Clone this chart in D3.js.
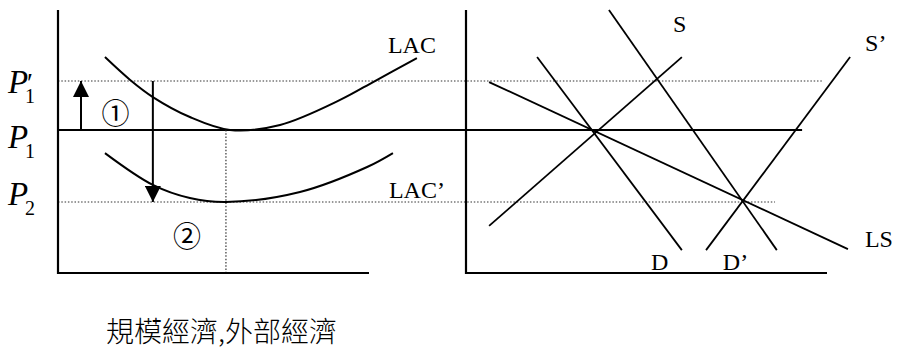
<!DOCTYPE html>
<html>
<head>
<meta charset="utf-8">
<script src="https://cdnjs.cloudflare.com/ajax/libs/d3/7.8.5/d3.min.js"></script>
<style>
  body { margin: 0; background: #fff; }
  svg text { fill: #000; }
  .lbl { font-family: "Liberation Serif", "Times New Roman", serif; font-size: 24px; }
</style>
</head>
<body>
<div id="chart-area"><svg></svg></div>
<script>
// price levels shared by both panels
const priceNames = ["P1'", "P1", "P2"];
const priceValues = [73, 54.4, 27];
const priceLineEnds = [98.9, 93.1, 85.6];   // where each level stops in the right panel (quantity)

// left panel: long run average cost before / after the shift
const lacQ = [15.1, 23.2, 30.5, 42.4, 55.3, 71.4, 90.7, 101.9, 115.4];
const lacP = [82.1, 73.4, 66.9, 59.3, 54.4, 56.3, 65.8, 73.0, 81.7];
const lac2Q = [15.1, 30.5, 42.4, 54.0, 77.8, 99.4, 107.7];
const lac2P = [45.6, 33.5, 28.5, 27.0, 30.8, 40.3, 45.6];
const minCostQ = 54;
const arrowQ = [7.4, 30.5];

// right panel: straight supply / demand lines
const lineNames = ["S", "D", "D’", "S’", "LS"];
const lineQ0 = [6.4, 19.7, 39.6, 66.5, 6.4];
const lineP0 = [17.9, 82.1, 100, 8.7, 72.6];
const lineQ1 = [59.8, 59.8, 86.1, 106.4, 105.8];
const lineP1 = [82.1, 8.7, 8.7, 82.1, 9.1];

const chartSize = { width: 898, height: 350 };

const drawChart = () => {
    const svg = d3.select('#chart-area svg')
        .attr('width', chartSize.width)
        .attr('height', chartSize.height);

    const y = d3.scaleLinear().domain([0, 100]).range([273, 10]);
    const xL = d3.scaleLinear().domain([0, 100]).range([58, 369]);
    const xR = d3.scaleLinear().domain([0, 100]).range([466, 827]);

    const defs = svg.append('defs');
    defs.append('marker')
        .attr('id', 'head')
        .attr('viewBox', '0 0 16 16')
        .attr('refX', 16).attr('refY', 8)
        .attr('markerWidth', 16).attr('markerHeight', 16)
        .attr('markerUnits', 'userSpaceOnUse')
        .attr('orient', 'auto')
        .append('path')
        .attr('d', 'M0,0 L16,8 L0,16 Z')
        .attr('fill', '#000');

    // horizontal price levels spanning both panels
    svg.append('g').selectAll('line')
        .data(priceValues)
        .join('line')
        .attr('x1', xL(0))
        .attr('x2', (d, i) => xR(priceLineEnds[i]))
        .attr('y1', d => y(d))
        .attr('y2', d => y(d))
        .attr('stroke', (d, i) => i == 1 ? '#000' : '#333')
        .attr('stroke-width', (d, i) => i == 1 ? 2 : 1.2)
        .attr('stroke-dasharray', (d, i) => i == 1 ? null : '1.5,1.8');

    // vertical dotted line at minimum cost output
    svg.append('line')
        .attr('x1', xL(minCostQ)).attr('x2', xL(minCostQ))
        .attr('y1', y(priceValues[1])).attr('y2', y(0))
        .attr('stroke', '#333')
        .attr('stroke-width', 1.2)
        .attr('stroke-dasharray', '1.5,1.8');

    // axes
    const axes = svg.append('g').attr('stroke', '#000').attr('stroke-width', 2.2);
    [xL, xR].forEach(x => {
        axes.append('line').attr('x1', x(0)).attr('x2', x(0)).attr('y1', y(100)).attr('y2', y(0) + 1);
        axes.append('line').attr('x1', x(0)).attr('x2', x(100)).attr('y1', y(0)).attr('y2', y(0));
    });

    // cost curves
    const curve = d3.line().curve(d3.curveCatmullRom.alpha(0.5));
    const lacPts = lacQ.map((q, i) => [xL(q), y(lacP[i])]);
    const lac2Pts = lac2Q.map((q, i) => [xL(q), y(lac2P[i])]);
    svg.append('g').selectAll('path')
        .data([lacPts, lac2Pts])
        .join('path')
        .attr('d', curve)
        .attr('fill', 'none')
        .attr('stroke', '#000')
        .attr('stroke-width', 2);

    // arrows: price rise (1) and fall (2)
    svg.append('line')
        .attr('x1', xL(arrowQ[0])).attr('x2', xL(arrowQ[0]))
        .attr('y1', y(priceValues[1])).attr('y2', y(priceValues[0]))
        .attr('stroke', '#000').attr('stroke-width', 2)
        .attr('marker-end', 'url(#head)');
    svg.append('line')
        .attr('x1', xL(arrowQ[1])).attr('x2', xL(arrowQ[1]))
        .attr('y1', y(priceValues[0])).attr('y2', y(priceValues[2]))
        .attr('stroke', '#000').attr('stroke-width', 2)
        .attr('marker-end', 'url(#head)');

    // supply / demand lines
    svg.append('g').selectAll('line')
        .data(lineNames)
        .join('line')
        .attr('x1', (d, i) => xR(lineQ0[i]))
        .attr('y1', (d, i) => y(lineP0[i]))
        .attr('x2', (d, i) => xR(lineQ1[i]))
        .attr('y2', (d, i) => y(lineP1[i]))
        .attr('stroke', '#000')
        .attr('stroke-width', 1.8);

    // line labels, placed next to the far end of each line
    const labelOffset = { "S": [-9, -25], "D": [-31, 20], "D’": [-54, 20], "S’": [15, -6], "LS": [17, -2] };
    svg.append('g').selectAll('text')
        .data(lineNames)
        .join('text')
        .attr('class', 'lbl')
        .attr('x', (d, i) => xR(lineQ1[i]) + labelOffset[d][0])
        .attr('y', (d, i) => y(lineP1[i]) + labelOffset[d][1])
        .text(d => d);

    svg.append('text').attr('class', 'lbl')
        .attr('x', xL(lacQ[lacQ.length - 1]) - 29)
        .attr('y', y(lacP[lacP.length - 1]) - 5)
        .text('LAC');
    svg.append('text').attr('class', 'lbl')
        .attr('x', xL(lac2Q[lac2Q.length - 1]) - 4)
        .attr('y', y(priceValues[2]) - 4)
        .text('LAC’');

    // circled step numbers
    const circ = svg.append('g')
        .style('font-family', '"Noto Sans CJK TC", "DejaVu Sans", sans-serif')
        .style('font-size', '28px')
        .attr('text-anchor', 'middle');
    circ.append('text').attr('x', xL(18.5)).attr('y', y(priceValues[1]) - 6).text('①');
    circ.append('text').attr('x', xL(41.5)).attr('y', y(priceValues[2]) + 45).text('②');

    // price labels on the left axis: italic P with subscript (and prime)
    const pDy = [12, 18, 3];
    svg.append('g').selectAll('text')
        .data(priceNames)
        .join('text')
        .style('font-family', '"Liberation Serif", "Times New Roman", serif')
        .each(function (name, i) {
            const base = y(priceValues[i]) + pDy[i];
            const t = d3.select(this);
            t.append('tspan').attr('x', 8).attr('y', base)
                .style('font-size', '33px').style('font-style', 'italic')
                .text('P');
            if (name.endsWith("'")) {
                t.append('tspan').attr('x', 27).attr('y', base - 1)
                    .style('font-size', '27px')
                    .text('′');
            }
            t.append('tspan').attr('x', 25).attr('y', base + 10)
                .style('font-size', '20px')
                .text(name.charAt(1));
        });

    svg.append('text')
        .attr('x', 106).attr('y', 342)
        .style('font-family', '"Noto Sans CJK TC", sans-serif')
        .style('font-weight', 300)
        .style('font-size', '28px')
        .text('規模經濟,外部經濟');
};

window.onload = drawChart;
</script>
</body>
</html>
